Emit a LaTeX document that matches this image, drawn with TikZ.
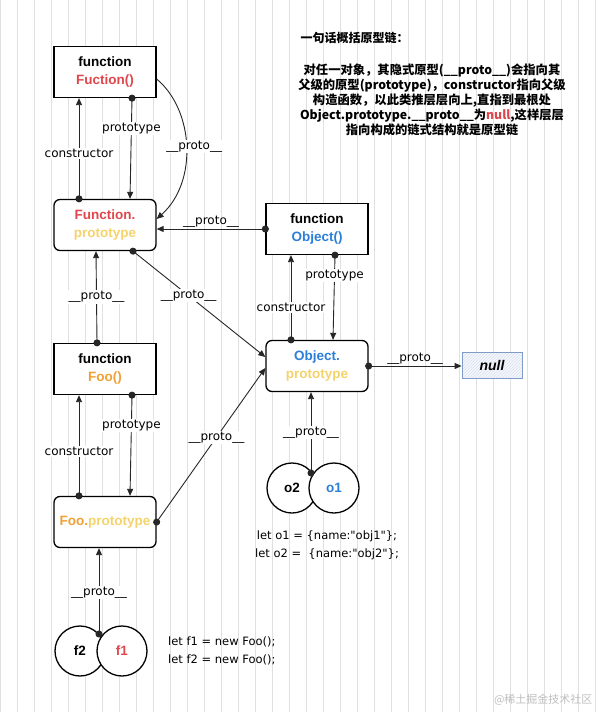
\documentclass[tikz,border=0pt]{standalone}
\usepackage{fontspec}
\setmainfont{Liberation Sans}
\newfontfamily\lblfamily{DejaVu Sans}
\newfontfamily\cjk{Noto Sans CJK SC}
\usetikzlibrary{arrows.meta,patterns,positioning,calc}

\definecolor{fnred}{HTML}{E0474C}
\definecolor{protoyellow}{HTML}{F5D36B}
\definecolor{objblue}{HTML}{2B7FD9}
\definecolor{fooorange}{HTML}{F0A035}
\definecolor{nullblue}{HTML}{7F9CC9}

\tikzset{
  gridline/.style={black!12, line width=0.5pt},
  fnbox/.style={draw, line width=1.3pt, fill=white, minimum width=102pt, minimum height=51pt,
    align=center, font=\fontsize{13.5}{18}\selectfont\bfseries},
  protobox/.style={fnbox, rounded corners=6pt},
  objcircle/.style={circle, draw, line width=1.3pt, fill=white, minimum size=50pt,
    font=\fontsize{13.5}{16}\selectfont\bfseries},
  link/.style={{Circle[length=7pt]}-{Triangle[length=7pt,width=6pt]}, shorten <=-3.5pt, line width=0.9pt, black!85},
  lbl/.style={font=\lblfamily\fontsize{12}{14}\selectfont, fill=white, inner sep=1pt, text=black},
  codetext/.style={font=\lblfamily\fontsize{11.5}{18}\selectfont, inner sep=0pt}
}

\begin{document}
\begin{tikzpicture}[x=1pt,y=-1pt]

	\useasboundingbox (0,0) rectangle (600,712);
	\fill[white] (0,0) rectangle (600,712);
	\draw[gridline] (0,0) grid[step=17] (600,712);

	\node[fnbox] (fn) at (105,72) {function\\\textcolor{fnred}{Fuction()}};
	\node[protobox] (fnproto) at (105,225) {\textcolor{fnred}{Function.}\\\textcolor{protoyellow}{prototype}};
	\node[fnbox] (objfn) at (317,229) {function\\\textcolor{objblue}{Object()}};
	\node[protobox] (objproto) at (317,366) {\textcolor{objblue}{Object.}\\\textcolor{protoyellow}{prototype}};
	\node[draw=nullblue, thick, preaction={fill=nullblue!8}, pattern=north east lines, pattern color=nullblue!30,
		minimum width=60pt, minimum height=26pt, font=\fontsize{14}{16}\selectfont\bfseries\itshape] (nullbox) at (492,365) {null};
	\node[fnbox] (foo) at (105,369) {function\\\textcolor{fooorange}{Foo()}};
	\node[protobox] (fooproto) at (105,522) {\textcolor{fooorange}{Foo.}\textcolor{protoyellow}{prototype}};

	\node[objcircle] (f2) at (80,651) {f2};
	\node[objcircle, text=fnred] (f1) at (122,651) {f1};
	\node[objcircle] (o2) at (292,488) {o2};
	\node[objcircle, text=objblue] (o1) at (334,488) {o1};
	\coordinate (fjoin) at (99,634);
	\coordinate (ojoin) at (311,473);

	% Function
	\draw[link] ([xshift=-26pt]fnproto.north) -- ([xshift=-26pt]fn.south) node[lbl, pos=0.45] {constructor};
	\draw[link] ([xshift=27pt]fn.south) -- ([xshift=25pt]fnproto.north) node[lbl, pos=0.3] {prototype};
	\draw[-{Triangle[length=7pt,width=6pt]}, line width=0.9pt, black!85] ([yshift=-7pt]fn.east) .. controls (194,110) and (198,182) .. ([yshift=6pt]fnproto.east)
		node[lbl, pos=0.5, xshift=8pt] {\_\_proto\_\_};
	\draw[link] (objfn.west) -- (objfn.west -| fnproto.east) node[midway, above, font=\lblfamily\fontsize{12}{14}\selectfont, inner sep=1pt, text=black] {\_\_proto\_\_};
	\draw[link] ([xshift=28pt]fnproto.south) -- ([yshift=9pt]objproto.west) node[lbl, pos=0.42] {\_\_proto\_\_};

	% Foo
	\draw[link] ([xshift=-8pt]foo.north) -- ([xshift=-9pt]fnproto.south) node[lbl, pos=0.5] {\_\_proto\_\_};
	\draw[link] ([xshift=-26pt]fooproto.north) -- ([xshift=-26pt]foo.south) node[lbl, pos=0.44] {constructor};
	\draw[link] ([xshift=27pt]foo.south) -- ([xshift=25pt]fooproto.north) node[lbl, pos=0.3] {prototype};
	\draw[link] (fooproto.east) -- ([yshift=-2pt]objproto.west) node[lbl, pos=0.55] {\_\_proto\_\_};

	% Object
	\draw[link] ([xshift=-26pt]objproto.north) -- ([xshift=-26pt]objfn.south) node[lbl, pos=0.38] {constructor};
	\draw[link] ([xshift=18pt]objfn.south) -- ([xshift=16pt]objproto.north) node[lbl, pos=0.24] {prototype};
	\draw[link] (objproto.east) -- (objproto.east -| nullbox.west) node[midway, above, font=\lblfamily\fontsize{12}{14}\selectfont, inner sep=1pt, text=black] {\_\_proto\_\_};

	% instances
	\draw[link] (ojoin) -- (ojoin |- objproto.south) node[lbl, pos=0.5] {\_\_proto\_\_};
	\draw[link] (fjoin) -- (fjoin |- fooproto.south) node[lbl, pos=0.48] {\_\_proto\_\_};

	\node[codetext, align=left, anchor=west] (fcode) at (168,651) {let f1 = new Foo();\\let f2 = new Foo();};
	\node[codetext, align=center] (ocode) at (327,545) {let o1 = \{name:"obj1"\};\\let o2 =\ \ \{name:"obj2"\};};

	\node[anchor=west, font=\cjk\fontsize{12}{15}\selectfont\bfseries] (title) at (297,38) {一句话概括原型链：};
	\node[align=center, font=\cjk\fontsize{12.3}{15}\selectfont\bfseries] (summary) at (432,100)
		{对任一对象，其隐式原型(\_\_proto\_\_)会指向其\\
		 父级的原型(prototype)，constructor指向父级\\
		 构造函数，以此类推层层向上,直指到最根处\\
		 Object.prototype.\_\_proto\_\_为\textcolor{fnred}{null},这样层层\\
		 指向构成的链式结构就是原型链};

	\node[anchor=east, text=black!25, font=\cjk\fontsize{11}{13}\selectfont] (mark) at (596,700) {@稀土掘金技术社区};

\end{tikzpicture}
\end{document}
